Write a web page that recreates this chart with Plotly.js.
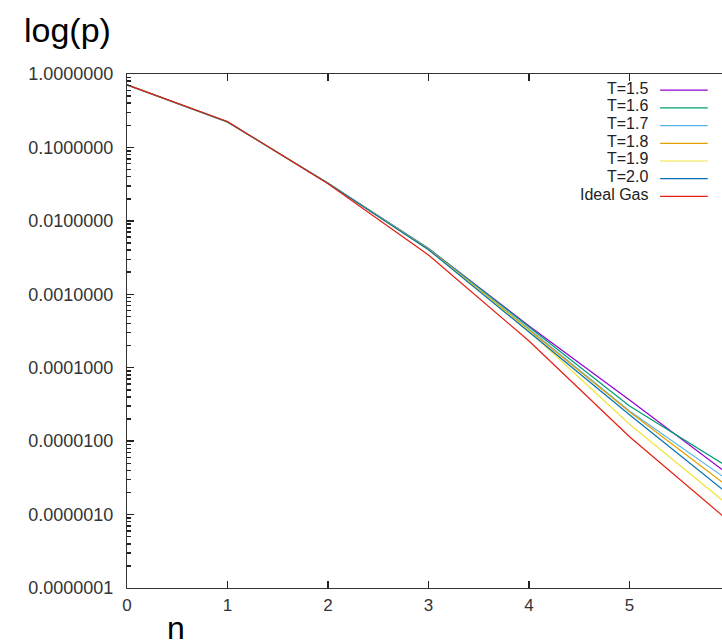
<!DOCTYPE html>
<html>
<head>
<meta charset="utf-8">
<script src="https://cdn.plot.ly/plotly-3.0.1.min.js"></script>
<style>html,body{margin:0;padding:0;background:#fff;}#chart{width:722px;height:644px;}</style>
</head>
<body>
<div id="chart"></div>
<script>
// n values
var nValues = [0, 1, 2, 3, 4, 5, 6];
// series names & colours
var seriesNames = ["T=1.5", "T=1.6", "T=1.7", "T=1.8", "T=1.9", "T=2.0", "Ideal Gas"];
var seriesColors = ["#9400d3", "#009e73", "#56b4e9", "#e69f00", "#f0e442", "#0072b2", "#e51e10"];
// probabilities p(n)
var pT15 = [0.71, 0.222, 0.0325, 0.00420, 3.70e-4, 3.63e-5, 3.39e-6];
var pT16 = [0.71, 0.222, 0.0325, 0.00420, 3.59e-4, 3.02e-5, 4.27e-6];
var pT17 = [0.71, 0.222, 0.0325, 0.00414, 3.37e-4, 2.57e-5, 2.82e-6];
var pT18 = [0.71, 0.222, 0.0325, 0.00412, 3.27e-4, 2.51e-5, 2.29e-6];
var pT19 = [0.71, 0.222, 0.0325, 0.00405, 3.16e-4, 1.70e-5, 1.29e-6];
var pT20 = [0.71, 0.222, 0.0325, 0.00405, 3.06e-4, 2.29e-5, 1.82e-6];
var pIdeal = [0.71, 0.226, 0.0320, 0.00343, 2.31e-4, 1.15e-5, 7.9e-7];
var allSeries = [pT15, pT16, pT17, pT18, pT19, pT20, pIdeal];
// tick labels
var yTickVals = [1, 0.1, 0.01, 0.001, 0.0001, 0.00001, 0.000001, 0.0000001];
var yTickText = ["1.0000000", "0.1000000", "0.0100000", "0.0010000", "0.0001000", "0.0000100", "0.0000010", "0.0000001"];
var xTickVals = [0, 1, 2, 3, 4, 5, 6];
var minorMantissas = [2, 3, 4, 5, 6, 7, 8, 9];

var yMinorVals = [];
yTickVals.slice(1).forEach(function (d) {
  minorMantissas.forEach(function (m) { yMinorVals.push(d * m); });
});

var traces = allSeries.map(function (s, i) {
  return {
    x: nValues, y: s, type: "scatter", mode: "lines", name: seriesNames[i],
    line: {color: seriesColors[i], width: 1.2}, showlegend: false, hoverinfo: "skip"
  };
});

// gnuplot-style key: right-aligned text with line sample on its right
var annotations = [];
var shapes = [];
var rowTop = 0.9685, rowStep = 17.7 / 514;
seriesNames.forEach(function (name, i) {
  var yy = rowTop - i * rowStep;
  annotations.push({
    xref: "paper", yref: "paper", x: 0.879, y: yy + 0.004, xanchor: "right", yanchor: "middle",
    text: name, showarrow: false, font: {family: "Liberation Sans, Arial, sans-serif", size: 16, color: "#222"}
  });
  shapes.push({
    type: "line", xref: "paper", yref: "paper", x0: 0.896, x1: 0.976, y0: yy, y1: yy,
    line: {color: seriesColors[i], width: 1.2}
  });
});
annotations.push({
  xref: "paper", yref: "paper", x: -0.177, y: 1.0856, xanchor: "left", yanchor: "middle",
  text: "log(p)", showarrow: false, font: {family: "Liberation Sans, Arial, sans-serif", size: 34, color: "#000"}
});
annotations.push({
  xref: "paper", yref: "paper", x: 0.082, y: -0.077, xanchor: "center", yanchor: "middle",
  text: "n", showarrow: false, font: {family: "Liberation Sans, Arial, sans-serif", size: 32, color: "#000"}
});

var layout = {
  width: 722, height: 644,
  margin: {l: 127, r: 0, t: 74, b: 56, pad: 0},
  paper_bgcolor: "#fff", plot_bgcolor: "#fff",
  showlegend: false,
  font: {family: "Liberation Sans, Arial, sans-serif", size: 17, color: "#333"},
  xaxis: {
    range: [0, 5.92], tickmode: "array", tickvals: xTickVals, ticks: "inside", ticklen: 7, tickwidth: 1.5,
    tickcolor: "#222", showline: true, linecolor: "#333", linewidth: 1, mirror: "ticks",
    showgrid: false, zeroline: false, ticklabelstandoff: 2
  },
  yaxis: {
    type: "log", range: [-7, 0], tickmode: "array", tickvals: yTickVals, ticktext: yTickText,
    ticks: "inside", ticklen: 7, tickwidth: 1.5, tickcolor: "#222", showline: true, linecolor: "#333", linewidth: 1,
    showgrid: false, zeroline: false, ticklabelstandoff: 9,
    tickfont: {size: 18},
    minor: {tickmode: "array", tickvals: yMinorVals, ticks: "inside", ticklen: 4, tickwidth: 1.5,
      tickcolor: "#222", showgrid: false}
  },
  annotations: annotations,
  shapes: shapes
};

Plotly.newPlot("chart", traces, layout, {staticPlot: true, displayModeBar: false});
</script>
</body>
</html>
